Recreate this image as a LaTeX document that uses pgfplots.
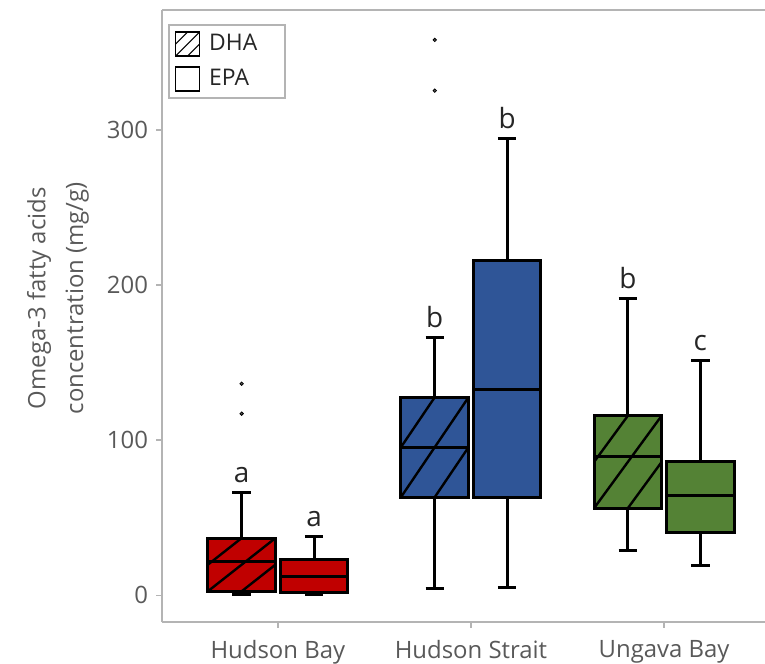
\documentclass[border=0pt]{standalone}
\usepackage{fontspec}
\setmainfont{Open Sans}
\usepackage{pgfplots}
\pgfplotsset{compat=1.18}
\definecolor{hbred}{HTML}{C00000}
\definecolor{hsblue}{HTML}{2F5597}
\definecolor{ubgreen}{HTML}{548235}
\definecolor{txtgray}{HTML}{595959}
\definecolor{axgray}{HTML}{B4B4B4}
\pgfplotsset{
  wh/.style={black, line width=1.5bp, mark=none, forget plot},
  bx/.style={fill=#1, draw=black, line width=1.5bp, line join=miter, mark=none, forget plot},
  ht/.style={black, line width=1.2bp, mark=none, forget plot},
}
\begin{document}
\begin{tikzpicture}
\begin{axis}[
  at={(81bp,21bp)}, anchor=south west,
  scale only axis, width=328.3bp, height=306bp,
  xmin=0.4, xmax=3.8, ymin=-17.2, ymax=377.3,
  axis x line*=box, axis y line*=left,
  unbounded coords=jump,
  xtick={1,2,3}, xticklabels={Hudson Bay, Hudson Strait, Ungava Bay},
  ytick={0,100,200,300},
  xtick pos=bottom, ytick pos=left,
  axis line style={axgray, line width=1.25bp},
  tick style={axgray, line width=0.8bp},
  tick align=outside, major tick length=3bp,
  tick label style={font=\fontsize{12}{14}\selectfont, text=txtgray},
  /pgf/number format/assume math mode=true,
  yticklabel style={xshift=-0.5bp},
  xticklabel style={yshift=-2.5bp},
  ylabel={Omega-3 fatty acids\\concentration (mg/g)},
  ylabel style={at={(axis description cs:-0.1584,0.529)}, anchor=center, align=center,
    font=\fontsize{12}{19}\selectfont, text=txtgray},
  legend style={at={(axis description cs:0.0091,0.9765)}, anchor=north west,
    draw=axgray, line width=1bp, font=\fontsize{11.5}{13}\selectfont, text=black!85,
    inner xsep=3bp, inner ysep=2.5bp, row sep=3.75bp},
  legend cell align=left,
]
\addlegendimage{legend image code/.code={%
  \draw[black, line width=0.6bp, fill=white] (0bp,-6bp) rectangle (12bp,6bp);
  \draw[black, line width=0.5bp] (0bp,-6bp) -- (12bp,6bp) (6bp,-6bp) -- (12bp,0bp) (0bp,0bp) -- (6bp,6bp);}}
\addlegendentry{\hspace*{2.5bp}DHA\hspace*{9bp}}
\addlegendimage{legend image code/.code={%
  \draw[black, line width=0.6bp, fill=white] (0bp,-6bp) rectangle (12bp,6bp);}}
\addlegendentry{\hspace*{2.5bp}EPA}

% ---------- Hudson Bay, DHA (pos 0.8125): lw 0.5, q1 2.6, med 21.5, q3 36.9, uw 66.5
\addplot[wh] coordinates {(0.8125,0.5) (0.8125,2.6) (0.8125,nan) (0.8125,36.9) (0.8125,66.5) (0.8125,nan)
  (0.7645,0.5) (0.8605,0.5) (0.8125,nan) (0.7645,66.5) (0.8605,66.5)};
\addplot[bx=hbred] coordinates {(0.6375,2.6) (0.9875,2.6) (0.9875,36.9) (0.6375,36.9)} -- cycle;
\addplot[wh] coordinates {(0.6375,21.5) (0.9875,21.5)};
\addplot[ht] coordinates {(0.6375,2.6) (0.9875,36.9) (0.9875,nan) (0.8125,2.6) (0.9875,19.75) (0.9875,nan) (0.6375,19.75) (0.8125,36.9)};
% ---------- Hudson Bay, EPA (pos 1.1875): lw 0.5, q1 2.1, med 12.2, q3 23.2, uw 37.6
\addplot[wh] coordinates {(1.1875,0.5) (1.1875,2.1) (1.1875,nan) (1.1875,23.2) (1.1875,37.6) (1.1875,nan)
  (1.1395,0.5) (1.2355,0.5) (1.1875,nan) (1.1395,37.6) (1.2355,37.6)};
\addplot[bx=hbred] coordinates {(1.0125,2.1) (1.3625,2.1) (1.3625,23.2) (1.0125,23.2)} -- cycle;
\addplot[wh] coordinates {(1.0125,12.2) (1.3625,12.2)};
% ---------- Hudson Strait, DHA (pos 1.8125): lw 4.3, q1 63.3, med 95.5, q3 127.7, uw 166.0
\addplot[wh] coordinates {(1.8125,4.3) (1.8125,63.3) (1.8125,nan) (1.8125,127.7) (1.8125,166.0) (1.8125,nan)
  (1.7645,4.3) (1.8605,4.3) (1.8125,nan) (1.7645,166.0) (1.8605,166.0)};
\addplot[bx=hsblue] coordinates {(1.6375,63.3) (1.9875,63.3) (1.9875,127.7) (1.6375,127.7)} -- cycle;
\addplot[wh] coordinates {(1.6375,95.5) (1.9875,95.5)};
\addplot[ht] coordinates {(1.6375,63.3) (1.9875,127.7) (1.9875,nan) (1.8125,63.3) (1.9875,95.5) (1.9875,nan) (1.6375,95.5) (1.8125,127.7)};
% ---------- Hudson Strait, EPA (pos 2.1875): lw 5.0, q1 63.3, med 132.9, q3 215.8, uw 294.6
\addplot[wh] coordinates {(2.1875,5.0) (2.1875,63.3) (2.1875,nan) (2.1875,215.8) (2.1875,294.6) (2.1875,nan)
  (2.1395,5.0) (2.2355,5.0) (2.1875,nan) (2.1395,294.6) (2.2355,294.6)};
\addplot[bx=hsblue] coordinates {(2.0125,63.3) (2.3625,63.3) (2.3625,215.8) (2.0125,215.8)} -- cycle;
\addplot[wh] coordinates {(2.0125,132.9) (2.3625,132.9)};
% ---------- Ungava Bay, DHA (pos 2.8125): lw 29.0, q1 56.2, med 89.5, q3 115.8, uw 191.5
\addplot[wh] coordinates {(2.8125,29.0) (2.8125,56.2) (2.8125,nan) (2.8125,115.8) (2.8125,191.5) (2.8125,nan)
  (2.7645,29.0) (2.8605,29.0) (2.8125,nan) (2.7645,191.5) (2.8605,191.5)};
\addplot[bx=ubgreen] coordinates {(2.6375,56.2) (2.9875,56.2) (2.9875,115.8) (2.6375,115.8)} -- cycle;
\addplot[wh] coordinates {(2.6375,89.5) (2.9875,89.5)};
\addplot[ht] coordinates {(2.6375,56.2) (2.9875,115.8) (2.9875,nan) (2.8125,56.2) (2.9875,86.0) (2.9875,nan) (2.6375,86.0) (2.8125,115.8)};
% ---------- Ungava Bay, EPA (pos 3.1875): lw 19.3, q1 40.4, med 64.4, q3 86.3, uw 151.4
\addplot[wh] coordinates {(3.1875,19.3) (3.1875,40.4) (3.1875,nan) (3.1875,86.3) (3.1875,151.4) (3.1875,nan)
  (3.1395,19.3) (3.2355,19.3) (3.1875,nan) (3.1395,151.4) (3.2355,151.4)};
\addplot[bx=ubgreen] coordinates {(3.0125,40.4) (3.3625,40.4) (3.3625,86.3) (3.0125,86.3)} -- cycle;
\addplot[wh] coordinates {(3.0125,64.4) (3.3625,64.4)};

% outliers
\addplot[only marks, mark=*, mark size=0.85bp, mark options={fill=txtgray, draw=none}, forget plot]
  coordinates {(0.8125,136.4) (0.8125,117.1) (1.8125,358.0) (1.8125,325.3)};

\node[anchor=base, font=\fontsize{14}{16}\selectfont, text=black!85, yshift=5bp] at (axis cs:0.8125,66.5) {a};
\node[anchor=base, font=\fontsize{14}{16}\selectfont, text=black!85, yshift=5bp] at (axis cs:1.1875,37.6) {a};
\node[anchor=base, font=\fontsize{14}{16}\selectfont, text=black!85, yshift=5bp] at (axis cs:1.8125,166.0) {b};
\node[anchor=base, font=\fontsize{14}{16}\selectfont, text=black!85, yshift=5bp] at (axis cs:2.1875,294.6) {b};
\node[anchor=base, font=\fontsize{14}{16}\selectfont, text=black!85, yshift=5bp] at (axis cs:2.8125,191.5) {b};
\node[anchor=base, font=\fontsize{14}{16}\selectfont, text=black!85, yshift=5bp] at (axis cs:3.1875,151.4) {c};
\end{axis}
\pgfresetboundingbox
\path (0bp,0bp) rectangle (382.5bp,332bp);
\end{tikzpicture}
\end{document}
